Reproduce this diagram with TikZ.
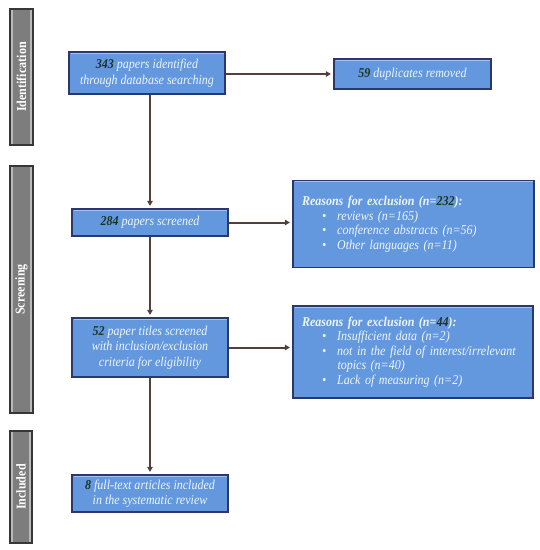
\documentclass[tikz,border=0pt]{standalone}
\usepackage{fontspec}
\setmainfont{Liberation Serif}[FakeStretch=0.89]
\usetikzlibrary{arrows.meta}
\definecolor{boxblue}{RGB}{100,152,222}
\definecolor{boxedge}{RGB}{45,55,110}
\definecolor{boxhi}{RGB}{160,195,240}
\definecolor{numgreen}{RGB}{28,52,30}
\definecolor{txtc}{RGB}{236,246,255}
\definecolor{bargray}{RGB}{125,125,125}
\definecolor{baredge}{RGB}{55,55,55}
\definecolor{barhi}{RGB}{185,185,185}
\definecolor{arrowc}{RGB}{85,62,62}
\newcommand{\nm}[1]{{\color{numgreen}\bfseries #1}}
\tikzset{
  mainbox/.style={draw=boxedge, line width=1.2pt, fill=boxblue, text=txtc,
    font=\fontsize{13.5}{15.5}\selectfont\itshape, align=center, inner sep=0pt,
    path picture={\draw[boxhi, line width=1.2pt]
      ([xshift=1.5pt,yshift=-1.3pt]path picture bounding box.north west) --
      ([xshift=-1.5pt,yshift=-1.3pt]path picture bounding box.north east);}},
  exclbox/.style={mainbox, align=left, font=\fontsize{13.5}{14.6}\selectfont\itshape},
  sidebar/.style={draw=baredge, line width=1.2pt, fill=bargray, text=white,
    font=\fontsize{13.5}{14}\selectfont\bfseries, rotate=90, inner sep=0pt,
    path picture={\draw[barhi, line width=1.4pt]
      ([xshift=2pt,yshift=-2pt]path picture bounding box.north west) rectangle
      ([xshift=-2pt,yshift=2pt]path picture bounding box.south east);}},
  flow/.style={draw=arrowc, line width=2pt, -{Triangle[length=5pt,width=5.5pt]}, shorten >=2.5pt}
}
\begin{document}
\begin{tikzpicture}[x=1pt,y=-1pt]
\useasboundingbox (0,0) rectangle (540,550);
% side bars
\node[sidebar, minimum width=136pt, minimum height=23pt] (idbar) at (21.5,77) {Identification};
\node[sidebar, minimum width=247pt, minimum height=23pt] (scbar) at (21.5,289.5) {Screening};
\node[sidebar, minimum width=112pt, minimum height=22pt] (inbar) at (21,487) {Included};
% main boxes
\node[mainbox, minimum width=156pt, minimum height=42pt] (b1) at (147,73)
  {\nm{343} papers identified\\through database searching};
\node[mainbox, minimum width=157pt, minimum height=30pt] (dup) at (412.5,74)
  {\nm{59} duplicates removed};
\node[mainbox, minimum width=156pt, minimum height=27pt] (b2) at (150,222.5)
  {\nm{284} papers screened};
\node[mainbox, minimum width=156pt, minimum height=59pt] (b3) at (150,347.5)
  {\nm{52} paper titles screened\\with inclusion/exclusion\\criteria for eligibility};
\node[mainbox, minimum width=156pt, minimum height=37pt] (b4) at (150,493.5)
  {\nm{8} full-text articles included\\in the systematic review};
% exclusion boxes
\node[exclbox, minimum width=241pt, minimum height=87pt, text width=223pt] (ex1) at (413.5,224)
  {\textbf{Reasons for exclusion (n=\nm{232}):}\\
   \hspace*{20pt}\textbullet\hspace{11pt}reviews (n=165)\\
   \hspace*{20pt}\textbullet\hspace{11pt}conference abstracts (n=56)\\
   \hspace*{20pt}\textbullet\hspace{11pt}Other languages (n=11)};
\node[exclbox, minimum width=240pt, minimum height=92pt, text width=222pt] (ex2) at (413,352)
  {\textbf{Reasons for exclusion (n=\nm{44}):}\\
   \hspace*{20pt}\textbullet\hspace{11pt}Insufficient data (n=2)\\
   \hspace*{20pt}\textbullet\hspace{11pt}not in the field of interest/irrelevant\\
   \hspace*{35.5pt}topics (n=40)\\
   \hspace*{20pt}\textbullet\hspace{11pt}Lack of measuring (n=2)};
% connectors
\draw[flow] (b1.east |- dup.west) -- (dup.west);
\draw[flow] (b1.south -| b2.north) -- (b2.north);
\draw[flow] (b2.east) -- (b2.east -| ex1.west);
\draw[flow] (b2.south) -- (b3.north);
\draw[flow] (b3.east) -- (b3.east -| ex2.west);
\draw[flow] (b3.south) -- (b4.north);
\end{tikzpicture}
\end{document}
